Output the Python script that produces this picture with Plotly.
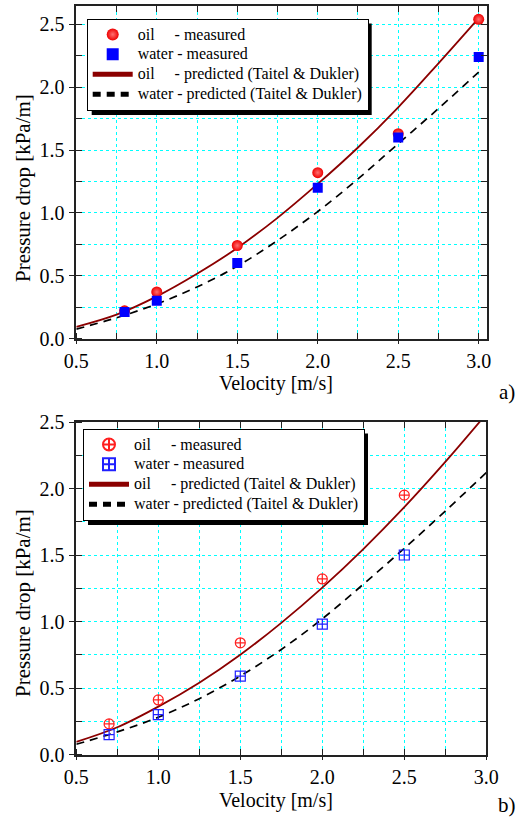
import plotly.graph_objects as go

W, H = 520, 818

# ---------------- data ----------------
# panel a)
a_meas_x = [0.8, 1.0, 1.5, 2.0, 2.5, 3.0]
a_oil_meas = [0.22, 0.37, 0.74, 1.32, 1.63, 2.54]
a_water_meas = [0.21, 0.30, 0.60, 1.20, 1.60, 2.24]
pred_x = [0.5, 0.75, 1.0, 1.25, 1.5, 1.75, 2.0, 2.25, 2.5, 2.75, 3.0]
a_oil_pred = [0.093, 0.19, 0.335, 0.515, 0.72, 0.96, 1.23, 1.52, 1.84, 2.19, 2.55]
a_water_pred = [0.075, 0.165, 0.275, 0.41, 0.575, 0.78, 1.01, 1.27, 1.55, 1.83, 2.12]

# panel b)
b_meas_x = [0.7, 1.0, 1.5, 2.0, 2.5]
b_oil_meas = [0.23, 0.41, 0.84, 1.32, 1.95]
b_water_meas = [0.15, 0.30, 0.59, 0.98, 1.50]
b_oil_pred = [0.095, 0.205, 0.36, 0.54, 0.75, 0.99, 1.255, 1.545, 1.86, 2.2, 2.56]
b_water_pred = [0.077, 0.17, 0.28, 0.42, 0.59, 0.79, 1.02, 1.28, 1.55, 1.83, 2.12]

legend_names = [
    "oil" + "\u00a0" * 5 + "- measured",
    "water\u00a0- measured",
    "oil" + "\u00a0" * 5 + "- predicted (Taitel & Dukler)",
    "water\u00a0- predicted (Taitel & Dukler)",
]
x_title = "Velocity [m/s]"
y_title = "Pressure drop [kPa/m]"
panel_labels = ["a)", "b)"]

FONT = "Liberation Serif, Times New Roman, Times, serif"
OIL_LINE = "#8B0000"
CYAN = "#00FFFF"

fig = go.Figure()


def px_x(p):
    return p / W


def px_y(p):
    return 1 - p / H


def leg_text(s):
    return "<span style='font-size:16px'>" + s + "</span>"


def add_panel(idx, meas_x, oil_m, water_m, oil_p, water_p, filled):
    sx = "" if idx == 1 else str(idx)
    xa, ya = "x" + sx, "y" + sx
    leg = "legend" if idx == 1 else "legend" + str(idx)
    fig.add_trace(go.Scatter(x=pred_x, y=oil_p, mode="lines", name=leg_text(legend_names[2]),
                             line=dict(color=OIL_LINE, width=1.8, shape="spline"),
                             xaxis=xa, yaxis=ya, legend=leg, legendrank=3))
    fig.add_trace(go.Scatter(x=pred_x, y=water_p, mode="lines", name=leg_text(legend_names[3]),
                             line=dict(color="black", width=1.7, dash="8px,6px", shape="spline"),
                             xaxis=xa, yaxis=ya, legend=leg, legendrank=4))
    if filled:
        oil_marker = dict(symbol="circle", size=11, color="#ee0000",
                          gradient=dict(type="radial", color="#ff7070"),
                          line=dict(width=0))
        water_marker = dict(symbol="square", size=10, color="#0000ff", line=dict(width=0))
    else:
        oil_marker = dict(symbol="circle-cross-open", size=10, color="#ff2020",
                          line=dict(width=1.2, color="#ff2020"))
        water_marker = dict(symbol="square-cross-open", size=10, color="#2020ff",
                            line=dict(width=1.2, color="#2020ff"))
    fig.add_trace(go.Scatter(x=meas_x, y=oil_m, mode="markers", name=leg_text(legend_names[0]),
                             marker=oil_marker, xaxis=xa, yaxis=ya, legend=leg, legendrank=1))
    fig.add_trace(go.Scatter(x=meas_x, y=water_m, mode="markers", name=leg_text(legend_names[1]),
                             marker=water_marker, xaxis=xa, yaxis=ya, legend=leg, legendrank=2))


add_panel(1, a_meas_x, a_oil_meas, a_water_meas, a_oil_pred, a_water_pred, True)
add_panel(2, b_meas_x, b_oil_meas, b_water_meas, b_oil_pred, b_water_pred, False)

# empty traces to activate tick-only axes on top/right
for xa, ya in (("x3", "y3"), ("x4", "y4")):
    fig.add_trace(go.Scatter(x=[], y=[], xaxis=xa, yaxis=ya, showlegend=False, hoverinfo="skip"))

tickfont = dict(family=FONT, size=20, color="black")
xtitlefont = dict(family=FONT, size=20, color="black")
ytitlefont = dict(family=FONT, size=21, color="black")


def main_x(domain, rng, anchor):
    return dict(domain=domain, range=rng, anchor=anchor, dtick=0.5, tick0=0.5, tickformat=".1f",
                showline=True, linecolor="#222", linewidth=1.5, mirror=True,
                ticks="outside", ticklen=4, tickwidth=1.3, tickcolor="#222",
                showgrid=True, gridcolor=CYAN, griddash="dot", gridwidth=1.3,
                minor=dict(dtick=0.25, tick0=0.5, ticks="inside", ticklen=6, tickwidth=1.3,
                           tickcolor="#222", showgrid=True, gridcolor=CYAN, griddash="dot",
                           gridwidth=1.3),
                zeroline=False, tickfont=tickfont, automargin=False)


def main_y(domain, rng, anchor):
    return dict(domain=domain, range=rng, anchor=anchor, dtick=0.5, tick0=0, tickformat=".1f",
                showline=True, linecolor="#222", linewidth=1.5, mirror=True,
                ticks="outside", ticklen=6, tickwidth=1.3, tickcolor="#222",
                showgrid=True, gridcolor=CYAN, griddash="dot", gridwidth=1.3,
                minor=dict(dtick=0.25, tick0=0, ticks="inside", ticklen=6, tickwidth=1.3,
                           tickcolor="#222", showgrid=True, gridcolor=CYAN, griddash="dot",
                           gridwidth=1.3),
                zeroline=False, tickfont=tickfont, automargin=False)


def mirror_x(over, rng, anchor):
    return dict(overlaying=over, side="top", anchor=anchor, range=rng, dtick=0.25, tick0=0.5,
                ticks="inside", ticklen=6, tickwidth=1.3, tickcolor="#222",
                showticklabels=False, showgrid=False, showline=False, zeroline=False)


def mirror_y(over, rng, anchor):
    return dict(overlaying=over, side="right", anchor=anchor, range=rng, dtick=0.25, tick0=0,
                ticks="inside", ticklen=6, tickwidth=1.3, tickcolor="#222",
                showticklabels=False, showgrid=False, showline=False, zeroline=False)


xa_dom = [px_x(76.3), px_x(487)]
xb_dom = [px_x(76.3), px_x(486.3)]
ya_dom = [px_y(338.5), px_y(6)]
yb_dom = [px_y(754.5), px_y(422)]
xa_rng = [0.5, 3.0516]
ya_rng = [0, 2.646]
xb_rng = [0.5, 3.0]
yb_rng = [0, 2.5]

LEG_FS = 13
legend_common = dict(font=dict(family=FONT, size=LEG_FS, color="black"), bgcolor="white",
                     bordercolor="black", borderwidth=1, xanchor="left", yanchor="top",
                     tracegroupgap=0, traceorder="normal", itemsizing="constant",
                     itemwidth=40)

# legend box corners (left, top) in pixels, and expected box size
a_leg = (86.7, 18.5)
b_leg = (83, 428.5)
leg_w = 280
leg_h = 4 * (LEG_FS * 1.3 + 3) + 12

shapes = []
for (l, t) in (a_leg, b_leg):
    shapes.append(dict(type="rect", xref="paper", yref="paper",
                       x0=px_x(l + 5), x1=px_x(l + leg_w + 5),
                       y0=px_y(t + leg_h + 5), y1=px_y(t + 5),
                       fillcolor="black", line=dict(width=0), layer="above"))

ann_font = dict(family=FONT, size=21, color="black")
common_ann = dict(xref="paper", yref="paper", showarrow=False, xanchor="center", yanchor="middle")
annotations = [
    # axis titles
    dict(text=x_title, x=px_x(276), y=px_y(384), font=xtitlefont, **common_ann),
    dict(text=x_title, x=px_x(276), y=px_y(800), font=xtitlefont, **common_ann),
    dict(text=y_title, x=px_x(23), y=px_y(188), textangle=-90, font=ytitlefont, **common_ann),
    dict(text=y_title, x=px_x(23), y=px_y(603), textangle=-90, font=ytitlefont, **common_ann),
    # panel labels
    dict(text=panel_labels[0], x=px_x(507), y=px_y(392), font=ann_font, **common_ann),
    dict(text=panel_labels[1], x=px_x(507), y=px_y(805), font=ann_font, **common_ann),
]

fig.update_layout(
    width=W, height=H, margin=dict(l=0, r=0, t=0, b=0),
    paper_bgcolor="white", plot_bgcolor="white",
    font=dict(family=FONT, color="black"),
    xaxis=main_x(xa_dom, xa_rng, "y"),
    yaxis=main_y(ya_dom, ya_rng, "x"),
    xaxis2=main_x(xb_dom, xb_rng, "y2"),
    yaxis2=main_y(yb_dom, yb_rng, "x2"),
    xaxis3=mirror_x("x", xa_rng, "y"),
    yaxis3=mirror_y("y", ya_rng, "x"),
    xaxis4=mirror_x("x2", xb_rng, "y2"),
    yaxis4=mirror_y("y2", yb_rng, "x2"),
    legend=dict(x=px_x(a_leg[0]), y=px_y(a_leg[1]), **legend_common),
    legend2=dict(x=px_x(b_leg[0]), y=px_y(b_leg[1]), **legend_common),
    shapes=shapes, annotations=annotations,
)

fig.write_html("out.html", config={"displayModeBar": False},
               post_script="document.body.style.margin='0px';")
